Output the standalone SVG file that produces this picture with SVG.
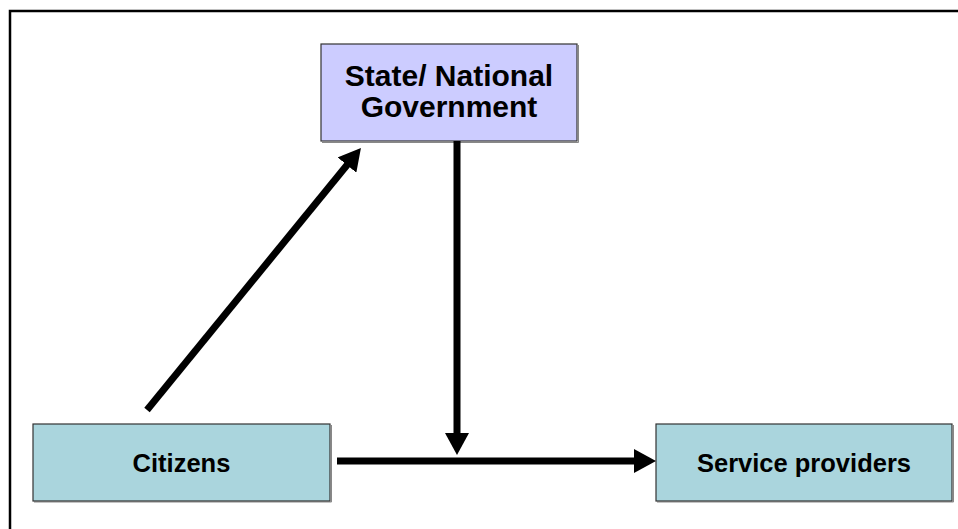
<svg xmlns="http://www.w3.org/2000/svg" width="958" height="529" viewBox="0 0 958 529">
  <style>
    .frame { fill: none; stroke: #000; stroke-width: 2.5; }
    .gov { fill: #CCCCFF; stroke: #333; stroke-width: 1.2; }
    .blue { fill: #AAD5DD; stroke: #333; stroke-width: 1.2; }
    .shadow { fill: none; stroke: #888; stroke-width: 1; }
    .lbl { font-family: "Liberation Sans", Arial, sans-serif; font-weight: bold; fill: #000; text-anchor: middle; }
    .conn { stroke: #000; stroke-width: 7; fill: none; }
  </style>
  <defs>
    <marker id="ah" viewBox="0 0 22 24" refX="2" refY="12" markerWidth="22" markerHeight="24" markerUnits="userSpaceOnUse" orient="auto">
      <path d="M0,0 L22,12 L0,24 Z" fill="#000"/>
    </marker>
  </defs>
  <rect width="958" height="529" fill="#fff"/>
  <path class="frame" d="M10,540 L10,11 L970,11"/>

  <g id="gov">
    <path class="shadow" d="M578.5,45 V142.5 H322"/>
    <rect class="gov" x="321" y="44" width="256" height="97"/>
    <text class="lbl" x="449" y="86" font-size="30">State/ National</text>
    <text class="lbl" x="449" y="117" font-size="30">Government</text>
  </g>

  <g id="citizens">
    <path class="shadow" d="M331.5,425 V502 H34"/>
    <rect class="blue" x="33" y="424" width="297" height="77"/>
    <text class="lbl" x="181.5" y="472" font-size="25.5">Citizens</text>
  </g>

  <g id="service">
    <path class="shadow" d="M953.5,425 V502 H657"/>
    <rect class="blue" x="656" y="424" width="296" height="77"/>
    <text class="lbl" x="804" y="472" font-size="25.5">Service providers</text>
  </g>

  <g id="connectors">
    <line class="conn" x1="147" y1="410" x2="348.3" y2="163.5" marker-end="url(#ah)"/>
    <line class="conn" x1="457" y1="141" x2="457" y2="435" marker-end="url(#ah)"/>
    <line class="conn" x1="337" y1="461" x2="636" y2="461" marker-end="url(#ah)"/>
  </g>
</svg>
